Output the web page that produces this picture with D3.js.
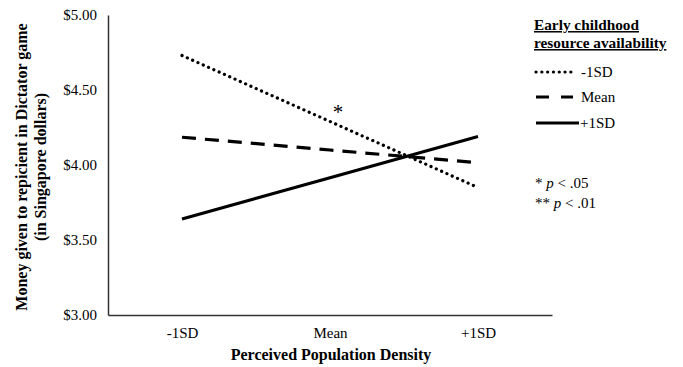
<!DOCTYPE html>
<html><head><meta charset="utf-8">
<script src="https://cdn.jsdelivr.net/npm/d3@7"></script>
<style>
body{margin:0;background:#fff;}
svg text{font-family:"Liberation Serif","Times New Roman",serif;fill:#000;}
</style></head>
<body><svg id="c" width="683" height="367"></svg>
<script>
const categories = ["-1SD", "Mean", "+1SD"];
const seriesNames = ["-1SD", "Mean", "+1SD"];
const lowValues = [4.73, 4.29, 3.85];
const meanValues = [4.185, 4.10, 4.015];
const highValues = [3.64, 3.915, 4.19];
const yTicks = [3.0, 3.5, 4.0, 4.5, 5.0];
const notes = ["*", "**"];

const svg = d3.select("#c");
const x = d3.scalePoint().domain(categories).range([108, 552]).padding(0.5);
const y = d3.scaleLinear().domain([3, 5]).range([315, 15]);

// axes
const yAxis = svg.append("g").attr("transform","translate(108,0)")
  .call(d3.axisLeft(y).tickValues(yTicks).tickSize(0).tickPadding(11).tickFormat(d => "$" + d.toFixed(2)));
const xAxis = svg.append("g").attr("transform","translate(0,315)")
  .call(d3.axisBottom(x).tickSize(0).tickPadding(12));
[yAxis, xAxis].forEach(g => {
  g.select(".domain").attr("stroke","#333").attr("stroke-width",1.5);
  g.selectAll("text").attr("font-size",15).attr("font-family","Liberation Serif");
});

const styles = [
  {dash:"0.1 5.7", w:3.2, cap:"round"},
  {dash:"14 9", w:3.2, cap:"butt"},
  {dash:null, w:3.2, cap:"butt"}
];
const data = [lowValues, meanValues, highValues];
const line = d3.line().x((d,i)=>x(categories[i])).y(d=>y(d));
data.forEach((vals,k)=>{
  svg.append("path").datum(vals).attr("d", line).attr("fill","none")
    .attr("stroke","#000").attr("stroke-width",styles[k].w)
    .attr("stroke-linecap",styles[k].cap)
    .attr("stroke-dasharray",styles[k].dash);
});

// significance star
svg.append("text").attr("x", x("Mean")+8).attr("y", y(lowValues[1])-3)
  .attr("text-anchor","middle").attr("font-size",21).text("*");

// y title
const yt = svg.append("text").attr("transform","translate(27,167) rotate(-90)")
  .attr("text-anchor","middle").attr("font-size",16).attr("font-weight","bold");
yt.append("tspan").attr("x",0).attr("dy",0).text("Money given to repicient in Dictator game");
yt.append("tspan").attr("x",0).attr("dy",19).text("(in Singapore dollars)");

// x title
svg.append("text").attr("x",331).attr("y",360).attr("text-anchor","middle")
  .attr("font-size",16).attr("font-weight","bold").text("Perceived Population Density");

// legend
svg.append("text").attr("x",534).attr("y",30).attr("font-size",15.3).attr("font-weight","bold")
  .attr("text-decoration","underline").text("Early childhood ");
svg.append("text").attr("x",534).attr("y",48).attr("font-size",15.3).attr("font-weight","bold")
  .attr("text-decoration","underline").text("resource availability");
const ly = [72, 97, 123];
const lx2 = [573, 573, 579];
seriesNames.forEach((n,k)=>{
  svg.append("line").attr("x1",536).attr("x2",lx2[k]).attr("y1",ly[k]).attr("y2",ly[k])
    .attr("stroke","#000").attr("stroke-width",styles[k].w)
    .attr("stroke-linecap",styles[k].cap).attr("stroke-dasharray",k===1?"13 12":styles[k].dash);
  svg.append("text").attr("x",k===2?580:581).attr("y",ly[k]+5).attr("font-size",15).text(n);
});

// footnotes
const fy = [188, 208];
const ps = [".05", ".01"];
notes.forEach((s,i)=>{
  const t = svg.append("text").attr("x",535).attr("y",fy[i]).attr("font-size",15);
  t.append("tspan").text(s + " ");
  t.append("tspan").attr("font-style","italic").text("p");
  t.append("tspan").text(" < " + ps[i]);
});
</script></body></html>
